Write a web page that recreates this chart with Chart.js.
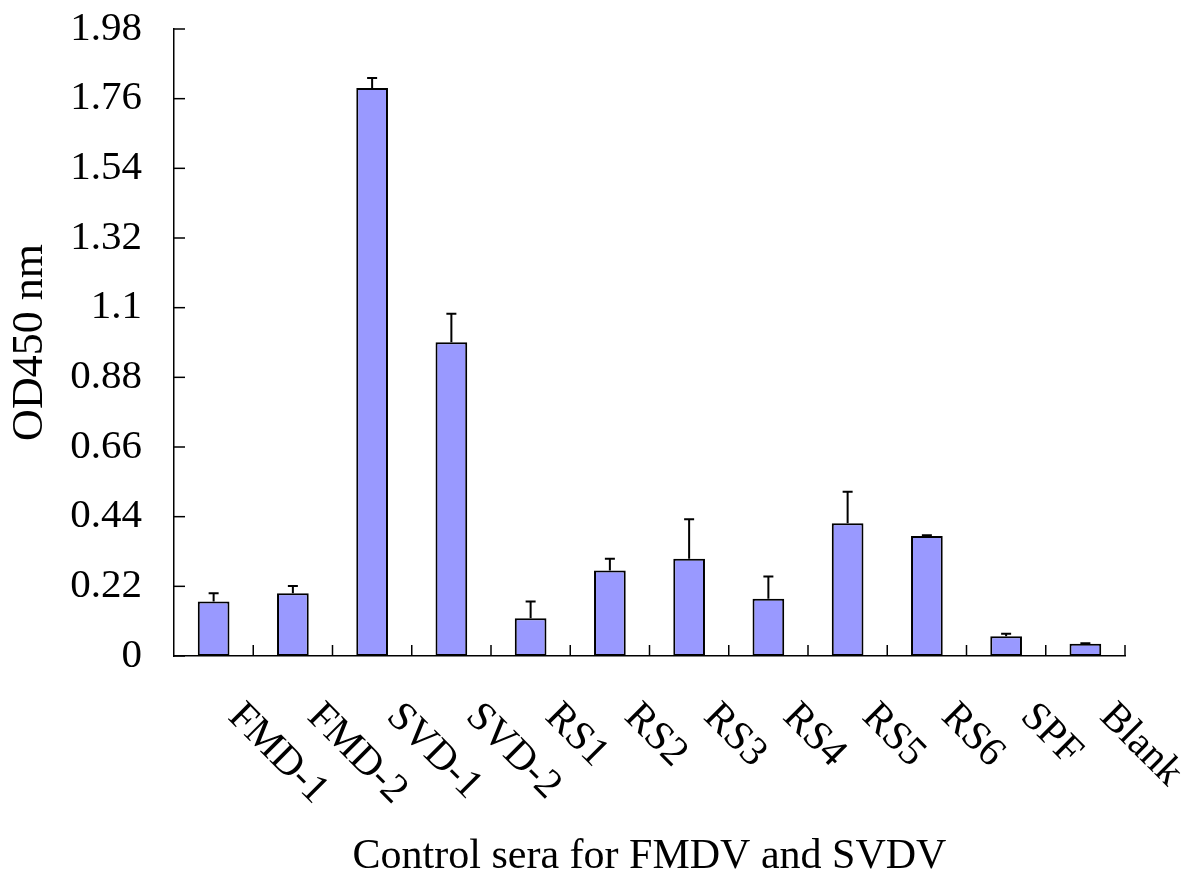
<!DOCTYPE html>
<html>
<head>
<meta charset="utf-8">
<script src="https://cdn.jsdelivr.net/npm/chart.js@4.4.1/dist/chart.umd.min.js"></script>
<style>
  html, body { margin: 0; padding: 0; background: #fff; }
  #wrap { width: 1182px; height: 878px; }
</style>
</head>
<body>
<div id="wrap"><canvas id="odChart" width="1182" height="878"></canvas></div>
<script>
var categories = ["FMD-1", "FMD-2", "SVD-1", "SVD-2", "RS1", "RS2", "RS3", "RS4", "RS5", "RS6", "SPF", "Blank"];
var odValues = [0.172, 0.198, 1.794, 0.991, 0.119, 0.270, 0.307, 0.181, 0.419, 0.379, 0.062, 0.039];
var odErrors = [0.026, 0.023, 0.031, 0.090, 0.053, 0.037, 0.125, 0.070, 0.100, 0.002, 0.008, 0.001];
var yTicks = [0, 0.22, 0.44, 0.66, 0.88, 1.1, 1.32, 1.54, 1.76, 1.98];

var serif = "'Liberation Serif', 'Times New Roman', serif";

// error bars (upper only), inner tick marks and rotated category labels
var extrasPlugin = {
    id: "extras",
    afterDatasetsDraw: function(chart) {
        var ctx = chart.ctx;
        var ys = chart.scales.y;
        var meta = chart.getDatasetMeta(0);
        ctx.save();
        ctx.strokeStyle = "#000";
        ctx.lineWidth = 2;
        for (var i = 0; i < odValues.length; i++) {
            if (!odErrors[i]) continue;
            var x = meta.data[i].x;
            var y0 = ys.getPixelForValue(odValues[i]);
            var y1 = ys.getPixelForValue(odValues[i] + odErrors[i]);
            ctx.beginPath();
            ctx.moveTo(x, y0);
            ctx.lineTo(x, y1);
            ctx.moveTo(x - 5, y1);
            ctx.lineTo(x + 5, y1);
            ctx.stroke();
        }
        ctx.restore();
    },
    afterDraw: function(chart) {
        var ctx = chart.ctx;
        var xs = chart.scales.x, ys = chart.scales.y;
        var area = chart.chartArea;
        ctx.save();
        ctx.strokeStyle = "#000";
        ctx.lineWidth = 1.5;
        // y ticks pointing inwards
        yTicks.forEach(function(v) {
            var y = ys.getPixelForValue(v);
            ctx.beginPath();
            ctx.moveTo(area.left, y);
            ctx.lineTo(area.left + 11, y);
            ctx.stroke();
        });
        // x ticks between categories, pointing up
        var step = (area.right - area.left) / categories.length;
        for (var i = 1; i <= categories.length; i++) {
            var x = xs.getPixelForValue(i - 1) + step / 2;
            ctx.beginPath();
            ctx.moveTo(x, area.bottom);
            ctx.lineTo(x, area.bottom - 11);
            ctx.stroke();
        }
        // category labels rotated clockwise
        ctx.fillStyle = "#000";
        ctx.font = "41px " + serif;
        ctx.textAlign = "left";
        ctx.textBaseline = "alphabetic";
        categories.forEach(function(c, i) {
            var x = xs.getPixelForValue(i);
            ctx.save();
            ctx.translate(x + 13, area.bottom + 62);
            ctx.rotate(Math.PI / 4);
            ctx.fillText(c, 0, 0);
            ctx.restore();
        });
        ctx.restore();
    }
};

new Chart(document.getElementById("odChart").getContext("2d"), {
    type: "bar",
    data: {
        labels: categories,
        datasets: [{
            data: odValues,
            backgroundColor: "#9999ff",
            borderColor: "#000",
            borderWidth: 2,
            borderSkipped: false,
            categoryPercentage: 1,
            barPercentage: 0.4
        }]
    },
    options: {
        responsive: false,
        animation: false,
        layout: { padding: { top: 29, right: 57, bottom: 0, left: 0 } },
        plugins: { legend: { display: false }, tooltip: { enabled: false } },
        scales: {
            x: {
                grid: { display: false },
                border: { display: true, color: "#000", width: 1.5 },
                ticks: { display: false },
                title: {
                    display: true,
                    text: "Control sera for FMDV and SVDV",
                    color: "#000",
                    font: { family: serif, size: 42, lineHeight: 1 },
                    padding: { top: 0, bottom: 0 }
                },
                afterFit: function(s) {
                    s.height = 222;
                    s.paddingLeft = 0; s.paddingRight = 0;
                }
            },
            y: {
                min: 0,
                max: 1.98,
                afterBuildTicks: function(s) {
                    s.ticks = yTicks.map(function(v) { return { value: v }; });
                },
                grid: { display: false, drawTicks: false },
                border: { display: true, color: "#000", width: 1.5 },
                ticks: {
                    color: "#000",
                    padding: 32,
                    font: { family: serif, size: 41 },
                    callback: function(v) { return String(Number(v.toFixed(2))); }
                },
                title: {
                    display: true,
                    text: "OD450 nm",
                    color: "#000",
                    font: { family: serif, size: 44, lineHeight: 1 },
                    padding: { top: 8, bottom: 0 }
                },
                afterFit: function(s) {
                    s.width = 174;
                    s.paddingTop = 0; s.paddingBottom = 0;
                }
            }
        }
    },
    plugins: [extrasPlugin]
});
</script>
</body>
</html>
